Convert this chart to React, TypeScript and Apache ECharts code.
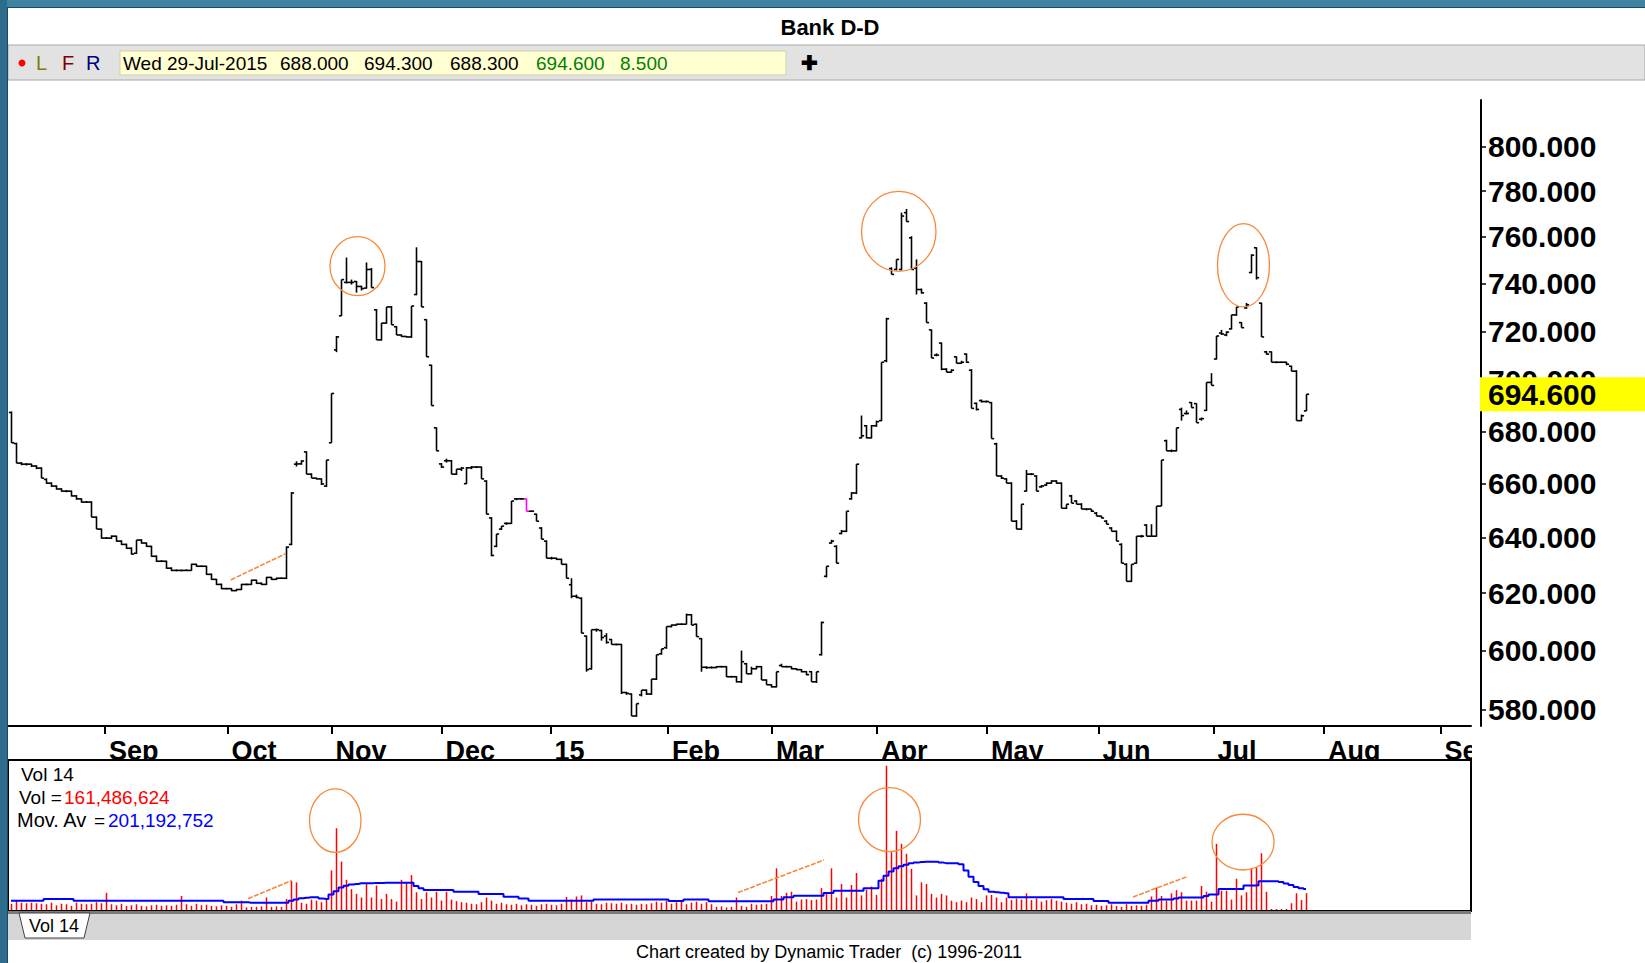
import React, { useEffect, useRef } from 'react';
import * as echarts from 'echarts';

const FONT = "'Liberation Sans', Arial, sans-serif";

// ---------- price bars: [open, high, low, close], one per trading day ----------
const barsAugOct = [
  [687.4,687.8,675.6,675.6],[675.3,675.6,667.8,667.8],[667.8,668.2,667.0,667.4],[667.4,667.8,666.9,667.4],[667.4,667.6,666.3,666.7],
  [666.7,667.0,665.5,665.9],[665.9,666.2,662.1,662.1],[661.6,662.0,660.0,660.2],[660.2,660.5,658.8,659.1],[659.1,659.4,657.8,658.0],
  [658.0,658.3,657.0,657.2],[657.2,657.6,656.8,657.2],[657.2,657.4,655.2,655.4],[655.4,655.7,654.0,654.3],[654.3,654.5,652.9,653.1],
  [653.1,653.5,652.8,653.1],[653.1,653.4,647.5,647.5],[647.5,647.8,643.1,643.1],[643.1,643.3,639.6,639.8],[639.8,640.2,639.5,639.8],
  [639.8,640.8,639.5,640.5],[640.5,640.7,638.5,638.7],[638.7,639.0,637.3,637.5],[637.5,637.8,635.9,636.1],[636.1,636.4,633.8,634.0],
  [634.3,639.1,634.0,639.1],[639.1,639.4,637.8,638.0],[638.0,638.2,636.6,636.8],[636.8,637.0,633.0,633.2],[633.2,633.5,631.2,631.4],
  [631.4,631.8,631.1,631.4],[631.4,631.6,628.7,628.9],[628.9,629.2,627.9,628.1],[628.1,628.5,627.8,628.1],[628.1,628.4,627.8,628.1],
  [628.1,628.5,627.9,628.1],[628.1,630.5,628.0,630.3],[630.3,630.5,629.4,629.6],[629.6,629.9,629.3,629.6],[629.6,629.8,626.5,626.7],
  [626.7,627.0,624.7,624.9],[624.9,625.1,622.9,623.1],[623.1,623.4,621.4,621.6],[621.6,621.9,621.3,621.6],[621.6,621.8,620.7,620.9],
  [620.9,621.5,620.7,621.3],[621.3,623.3,621.1,623.1],[623.1,623.4,622.8,623.1],[623.1,624.8,622.9,624.6],[624.6,624.8,623.3,623.5],
  [623.5,623.8,622.9,623.1],[623.1,625.8,622.9,625.6],[625.6,625.8,624.7,624.9],[624.9,625.5,624.7,625.3],[625.3,625.6,625.0,625.3],
  [625.3,636.8,625.0,636.5],[637.5,656.8,637.2,656.5]
];
const barsNov = [
  [667.4,668.5,666.5,667.5],[667.5,668.9,667.2,668.6],[672.1,672.3,663.6,663.6],[663.6,663.9,662.1,662.1],[662.1,662.3,661.6,661.8],
  [661.8,662.0,659.5,659.9],[659.1,669.0,658.8,669.0],[675.6,694.9,675.6,694.9],[712.4,718.1,711.5,717.7],[726.4,741.6,726.4,741.6],
  [740.4,751.0,740.0,740.4],[740.4,741.6,739.5,740.4],[740.8,741.0,736.1,738.7],[738.7,739.0,737.0,737.8],[738.0,748.9,737.8,745.9],
  [745.9,746.5,738.2,738.2],[728.9,729.2,716.5,716.5],[716.5,723.4,716.2,723.4],[723.4,730.1,723.1,730.1],[730.1,730.5,722.7,722.7],
  [721.9,722.2,718.5,718.5],[718.5,718.7,717.7,717.9],[717.9,718.1,717.5,717.7],[717.7,730.5,717.3,730.5],[735.3,755.4,735.0,749.3],
  [749.3,749.5,730.1,730.1],[724.8,725.0,709.6,709.6],[706.2,706.4,690.1,690.1],[681.4,681.6,672.5,672.5],[667.5,667.8,666.0,666.3],
  [668.7,669.5,668.0,668.7],[668.7,669.0,663.6,663.6],[663.6,665.5,663.3,665.5],[665.5,666.3,664.8,665.9]
];
const barsDecFeb = [
  [660.0,666.3,659.9,666.0],[666.0,666.7,665.5,666.3],[666.3,666.7,665.9,666.3],[666.3,666.5,661.8,661.8],[661.0,661.3,648.6,648.6],
  [647.2,647.5,633.2,633.5],[636.8,641.3,636.5,641.3],[643.1,644.2,642.8,644.2],[645.2,645.6,644.7,645.2],[645.2,653.5,645.0,653.5],
  [654.3,654.6,653.8,654.3],[654.3,654.6,654.0,654.3],[654.3,654.5,649.7,649.7],[649.7,650.0,649.4,649.7],[648.6,648.8,646.0,646.0],
  [643.5,643.8,639.4,639.4],[638.7,639.0,632.5,632.5],[632.5,633.0,632.0,632.5],[632.5,632.7,631.9,632.1],[632.1,632.3,630.3,630.3],
  [630.3,630.5,625.3,625.3],[623.0,625.3,618.2,618.9],[618.9,619.5,618.2,618.5],[618.2,618.5,606.0,606.0],[605.0,605.2,592.8,593.5],
  [593.8,607.2,593.5,607.2],[607.2,607.6,606.5,607.2],[606.9,607.2,603.4,604.5],[605.0,606.0,602.4,602.8],[603.8,604.0,602.1,602.1],
  [602.1,602.4,601.8,602.1],[602.1,602.3,585.3,585.8],[585.8,586.0,585.0,585.5],[585.3,585.5,578.0,578.0],[578.0,582.1,577.7,582.1],
  [585.0,586.6,584.5,586.6],[586.6,586.8,585.0,585.3],[585.3,590.3,585.0,590.3],[590.3,598.6,590.0,598.6],[598.9,600.6,598.6,600.6],
  [601.0,608.3,600.6,608.3],[608.3,609.0,608.0,608.8],[608.8,609.3,608.6,609.1],[609.1,609.4,608.8,609.1],[609.1,612.8,609.0,612.4],
  [612.4,612.6,608.8,608.8],[609.1,609.3,604.8,604.8],[604.1,604.3,592.8,594.3],[594.3,594.6,593.8,594.2],[594.2,594.6,593.9,594.2],
  [594.2,594.7,594.0,594.5],[594.5,594.8,594.2,594.5],[594.5,594.7,591.0,591.1],[591.1,591.4,590.8,591.1],[591.1,591.3,589.2,589.4],
  [589.4,600.0,589.0,596.2],[595.5,595.8,592.1,592.1],[592.1,594.5,591.9,593.8],[593.8,594.8,593.6,594.5],[594.5,594.7,590.0,590.0],
  [590.0,590.2,588.4,588.4],[588.4,588.6,587.5,587.7],[587.7,592.8,587.5,592.8],[594.9,595.5,594.5,594.5],[594.5,594.8,594.2,594.5],
  [594.5,594.6,593.6,593.8],[593.8,594.0,593.3,593.5],[593.5,593.7,592.6,592.8],[592.8,593.0,591.6,591.8],[592.8,593.0,589.4,589.4],
  [589.4,592.8,589.0,592.8]
];
const barsMarMay = [
  [598.6,610.0,598.3,609.7],[626.0,629.6,625.6,629.6],[638.0,639.2,637.8,638.7],[636.8,637.2,630.7,630.7],[641.5,642.8,641.2,642.3],
  [642.3,649.7,642.0,649.7],[654.3,656.8,654.0,656.5],[656.5,667.4,656.1,667.4],[677.5,686.2,677.3,678.3],[682.2,682.5,677.3,677.5],
  [677.5,682.5,677.3,682.2],[682.2,684.2,681.8,683.8],[684.2,707.4,684.0,707.4],[708.0,725.6,707.4,725.2],[746.3,746.8,743.8,743.8],
  [745.9,750.2,745.5,750.2],[745.9,770.5,745.5,769.0],[770.5,772.1,766.6,766.6],[759.5,760.2,745.9,745.9],[746.5,750.2,735.3,737.4],
  [737.4,737.8,735.7,736.0],[731.7,732.1,723.6,723.6],[720.6,720.8,709.1,709.1],[710.3,711.0,709.8,710.3],[715.2,715.4,704.2,704.6],
  [704.6,705.0,703.4,703.4],[703.4,704.6,703.2,704.2],[709.6,709.8,707.0,707.0],[707.0,708.0,706.8,707.4],[710.7,711.0,707.2,707.4],
  [704.2,704.6,689.0,689.0],[691.0,691.3,688.2,688.6],[692.1,692.5,691.3,691.7],[691.7,692.1,691.3,691.7],[691.3,691.5,677.2,677.2],
  [675.2,675.6,662.9,662.9],[662.9,663.2,661.8,662.1],[661.8,662.1,660.2,660.2],[660.2,660.5,646.0,646.0],[646.0,646.4,643.1,643.1],
  [643.1,652.3,642.8,652.3],[657.2,665.2,657.0,663.6],[663.6,664.0,663.2,663.6],[662.9,663.2,657.2,657.2],[658.8,659.5,658.5,659.1],
  [659.5,660.5,659.1,660.2],[660.2,661.3,660.0,661.0],[661.0,661.3,660.0,660.2],[660.2,660.5,650.8,650.8],[650.8,652.3,650.5,652.3],
  [655.4,655.8,652.7,652.7],[653.5,653.8,652.3,652.3],[652.3,652.7,650.5,650.5],[650.5,650.8,650.0,650.5],[650.5,650.5,649.4,649.7],
  [649.0,649.4,647.9,647.9],[647.9,648.0,647.1,647.2],[646.0,646.4,644.9,644.9],[643.5,643.8,642.3,642.3],[642.3,642.6,638.7,638.7],
  [637.5,637.9,630.7,630.7],[630.3,630.7,624.2,624.2],[624.2,630.3,624.0,630.3],[630.7,640.5,630.5,640.5],[640.5,641.0,640.0,640.5],
  [644.6,644.9,640.5,640.5],[640.5,644.9,640.3,640.5],[640.5,651.6,640.3,651.6],[651.6,669.0,651.6,669.0]
];
const barsJunJul = [
  [676.4,676.8,672.5,672.5],[672.5,673.0,672.0,672.5],[672.5,681.4,672.3,681.4],[688.6,689.3,684.2,686.2],[687.0,688.2,686.6,687.0],
  [691.3,691.5,689.3,689.3],[690.9,691.0,683.4,683.4],[684.8,685.4,684.2,685.0],[688.2,699.3,688.0,699.3],[699.3,703.0,698.1,698.1],
  [708.7,718.1,708.5,718.1],[719.3,720.6,718.5,718.9],[718.5,720.0,718.0,719.7],[721.0,726.8,720.8,726.8],[726.8,730.1,726.4,730.1],
  [723.6,723.8,721.5,721.5],[729.7,731.8,729.3,731.0],[744.6,752.4,744.3,752.0],[755.2,755.4,741.6,742.4],[731.7,731.9,717.7,717.7],
  [711.6,712.0,710.5,710.7],[711.6,711.8,707.4,707.4],[707.4,707.8,707.0,707.4],[707.4,707.7,707.1,707.4],[707.4,707.6,706.2,706.6],
  [705.8,706.0,703.8,703.8],[703.8,704.2,684.2,684.2],[684.2,686.6,684.0,686.1],[688.0,694.6,688.0,694.6]
];
const highlightedBar = 103; // the one bar drawn in magenta

// ---------- volume (millions) ----------
const volAugNov = [
  60,95,70,65,70,65,60,55,70,45,60,
  55,40,70,60,55,60,75,65,165,55,
  45,60,40,45,55,40,35,45,50,40,
  45,40,50,135,55,40,60,45,50,40,
  35,45,40,30,55,90,25,30,30,35,
  120,30,35,30,105,280,265,70,60,100,
  90,75,100,380,785,465,290,200,155,120,
  250,120,235,105,155,105,80,290,265,335,
  170,105,170,120,175,90,175,100,85,75
];
const volDecFeb = [
  70,60,55,75,120,90,60,70,55,50,
  60,45,55,50,40,55,60,50,45,60,
  125,100,130,140,75,80,60,55,70,65,
  60,70,55,60,50,60,55,65,80,70,
  90,60,75,85,55,70,80,60,75,55,
  30,35,25,30,120,40,30,60,50,55,
  60,135,400,135,165,175,80,100,105,95,
  100
];
const volMarJul = [
  210,170,400,120,250,120,240,355,140,
  195,225,145,300,1385,555,760,635,540,395,
  140,265,250,155,120,155,140,90,75,90,
  75,120,105,75,140,145,120,75,120,95,
  110,100,160,95,110,80,95,105,90,80,
  70,60,75,55,60,45,50,40,45,55,
  40,30,55,40,45,40,50,130,215,135,
  90,160,190,170,90,90,90,230,175,80,
  635,185,185,100,300,140,170,395,410,545,
  175,3,3,3,5,65,160,95,161.486624
];

// ---------- 14-period moving average of volume (millions) ----------
const maAugNov = [
  89,89,89,89,89,89,89,
  106,106,106,106,106,106,
  89,89,89,89,89,89,89,89,89,89,89,89,89,89,89,89,89,89,89,89,89,89,89,89,89,89,89,89,89,89,
  74,74,74,74,74,
  70,70,70,70,70,70,70,70,
  90,100,112,118,122,122,110,106,150,180,215,234,245,250,256,
  258,258,260,260,262,262,262,262,262,262,
  230,210,192,192,192,192,192,192,176,176
];
const maDecFeb = [
  176,176,176,
  154,154,154,154,154,
  128,128,128,
  110,110,
  89,89,89,89,89,89,89,89,89,89,89,89,89,
  102,102,102,102,102,102,102,102,102,102,102,102,102,102,102,
  86,86,86,
  100,100,100,100,100,
  84,84,84,84,84,84,84,84,84,84,84,84,84,
  100,100,
  122,122,
  138,138,138,138,138
];
const maMarJul = [
  138,
  163,163,
  186,186,186,186,186,186,
  208,208,208,
  280,330,370,400,420,435,448,455,460,464,464,464,455,450,450,448,440,380,320,270,230,200,176,170,165,160,
  122,122,122,122,122,122,122,122,122,122,122,
  106,106,106,106,106,106,
  86,86,86,
  70,70,70,70,70,70,70,70,
  90,90,
  100,100,100,
  110,
  120,120,120,120,120,
  135,
  150,150,
  202,202,202,202,202,
  235,235,235,
  275,275,275,275,
  268,255,240,222,210,201.192752
];

// ---------- axes ----------
const monthLabels = ['Sep', 'Oct', 'Nov', 'Dec', '15', 'Feb', 'Mar', 'Apr', 'May', 'Jun', 'Jul', 'Aug', 'Sep'];
const monthStartBar = [18.8, 43.3, 64.1, 86.1, 107.9, 131.4, 152.2, 173.2, 195.2, 217.5, 240.5, 262.6, 285.9];
const priceTicks = [580, 600, 620, 640, 660, 680, 700, 720, 740, 760, 780, 800];
const priceRange = [574.7, 821.7];
const barRange = [-0.6, 292.0];
const volumeMax = 1440;
const lastPrice = 694.6;

// ---------- annotations (data units) ----------
const priceCircles = [[63.8, 74.8, 734.8, 760.0], [170.1, 185.0, 745.1, 779.9], [241.3, 251.7, 730.1, 765.7]];
const priceTrendLines = [[43.96, 624.7, 54.86, 634.1]];
const volCircles = [[59.7, 70.0, 554, 1162], [169.5, 181.9, 560, 1174], [240.2, 252.6, 384, 919]];
const volTrendLines = [[47.4, 108, 56.1, 283], [145.4, 168, 162.6, 480], [224.4, 125, 235.4, 324]];

const ORANGE = '#f7893b';

function fmtInt(v: number) {
  return Math.round(v * 1e6).toLocaleString('en-US');
}

function txt(text: string, x: number, y: number, o: any = {}) {
  return {
    type: 'text', x, y, z: 10,
    style: {
      text, fill: o.color || '#000', fontSize: o.size || 19, fontWeight: o.weight || 'normal',
      fontFamily: FONT, align: o.align || 'left', textAlign: o.align || 'left',
      verticalAlign: 'middle', textVerticalAlign: 'middle'
    }
  };
}

export default function App() {
  const ref = useRef<HTMLDivElement>(null);
  useEffect(() => {
    if (!ref.current) return;
    const chart = echarts.init(ref.current, null, { renderer: 'svg' });
    const bars = [...barsAugOct, ...barsNov, ...barsDecFeb, ...barsMarMay, ...barsJunJul];
    const vols = [...volAugNov, ...volDecFeb, ...volMarJul];
    const mas = [...maAugNov, ...maDecFeb, ...maMarJul];
    const ln = Math.log;
    const priceData = bars.map((b, i) => [i, ln(b[0]), ln(b[1]), ln(b[2]), ln(b[3])]);
    const volData = vols.map((v, i) => [i, v]);
    const maData = mas.map((v, i) => [i, v]);
    const tickLn = priceTicks.map(ln);
    const monthFmt = (v: number) => {
      const i = monthStartBar.findIndex((b) => Math.abs(b - v) < 1e-6);
      return i >= 0 ? monthLabels[i] : '';
    };
    const priceFmt = (v: number) => Math.exp(v).toFixed(3);

    const ellipseItem = (params: any, api: any) => {
      const a = api.coord([api.value(0), api.value(2)]);
      const b = api.coord([api.value(1), api.value(3)]);
      return {
        type: 'ellipse',
        shape: { cx: (a[0] + b[0]) / 2, cy: (a[1] + b[1]) / 2, rx: Math.abs(b[0] - a[0]) / 2, ry: Math.abs(b[1] - a[1]) / 2 },
        style: { fill: 'none', stroke: ORANGE, lineWidth: 1.3 }
      };
    };
    const segItem = (params: any, api: any) => {
      const a = api.coord([api.value(0), api.value(1)]);
      const b = api.coord([api.value(2), api.value(3)]);
      return {
        type: 'line',
        shape: { x1: a[0], y1: a[1], x2: b[0], y2: b[1] },
        style: { stroke: ORANGE, lineWidth: 1.6, lineDash: [5, 1.5] }
      };
    };

    const graphics: any[] = [
      // frame
      { type: 'rect', z: 10, shape: { x: 0, y: 0, width: 1645, height: 7 }, style: { fill: '#3f82a2' } },
      { type: 'rect', z: 10, shape: { x: 0, y: 7, width: 1645, height: 1 }, style: { fill: '#1c4a63' } },
      { type: 'rect', z: 10, shape: { x: 0, y: 0, width: 7, height: 963 }, style: { fill: '#2c6c8c' } },
      { type: 'rect', z: 10, shape: { x: 7, y: 7, width: 1, height: 956 }, style: { fill: '#1c4a63' } },
      txt('Bank D-D', 830, 27, { weight: 'bold', size: 22, align: 'center' }),
      // toolbar
      { type: 'rect', z: 9, shape: { x: 8, y: 45, width: 1637, height: 35 }, style: { fill: '#e2e2e2', stroke: '#a8a8a8', lineWidth: 1 } },
      { type: 'circle', z: 10, shape: { cx: 22, cy: 63, r: 3.5 }, style: { fill: '#ff0000' } },
      txt('L', 36, 63, { color: '#808000', size: 20 }),
      txt('F', 62, 63, { color: '#800000', size: 20 }),
      txt('R', 86, 63, { color: '#000080', size: 20 }),
      { type: 'rect', z: 10, shape: { x: 120, y: 51, width: 666, height: 24 }, style: { fill: '#ffffd2', stroke: '#cfcfb0', lineWidth: 1 } },
      txt('Wed 29-Jul-2015', 123, 63),
      txt('688.000', 280, 63),
      txt('694.300', 364, 63),
      txt('688.300', 450, 63),
      txt('694.600', 536, 63, { color: '#008000' }),
      txt('8.500', 620, 63, { color: '#008000' }),
      txt('\u271A', 809, 63, { size: 20, weight: 'bold', align: 'center' }),
      // cover right end of the date axis
      { type: 'rect', z: 1, shape: { x: 1472, y: 728, width: 173, height: 50 }, style: { fill: '#ffffff' } },
      // volume panel
      { type: 'rect', z: 1, shape: { x: 8, y: 760, width: 1463, height: 151 }, style: { fill: '#ffffff', stroke: '#000', lineWidth: 2 } },
      txt('Vol 14', 21, 774),
      txt('Vol =', 19, 797),
      txt(fmtInt(vols[vols.length - 1]), 64, 797, { color: '#ff0000' }),
      txt('Mov. Av', 17, 820, { size: 20 }),
      txt('=', 94, 820),
      txt(fmtInt(mas[mas.length - 1]), 108, 820, { color: '#0000ff' }),
      // tab strip
      { type: 'rect', z: 9, shape: { x: 8, y: 912, width: 1463, height: 28 }, style: { fill: '#d6d6d6' } },
      { type: 'rect', z: 9, shape: { x: 8, y: 911, width: 1463, height: 3 }, style: { fill: '#7a7a7a' } },
      { type: 'polygon', z: 10, shape: { points: [[19, 913], [90, 913], [84, 938], [25, 938]] }, style: { fill: '#ffffff', stroke: '#404040', lineWidth: 1 } },
      txt('Vol 14', 54, 926, { align: 'center', size: 18 }),
      txt('Chart created by Dynamic Trader  (c) 1996-2011', 829, 952, { align: 'center', size: 18 })
    ];

    chart.setOption({
      animation: false,
      backgroundColor: '#ffffff',
      grid: [
        { left: 8, top: 100, width: 1463, height: 626, show: false, containLabel: false, outerBoundsMode: 'none' },
        { left: 8, top: 760, width: 1463, height: 150, show: false, containLabel: false, outerBoundsMode: 'none' }
      ],
      xAxis: [
        {
          gridIndex: 0, type: 'value', min: barRange[0], max: barRange[1],
          axisLine: { show: true, onZero: false, lineStyle: { color: '#000', width: 2 } },
          axisTick: { show: true, customValues: monthStartBar, length: 8, lineStyle: { color: '#000', width: 2 } },
          axisLabel: {
            show: true, customValues: monthStartBar, formatter: monthFmt, align: 'left', margin: 11,
            padding: [0, 0, 0, 4], color: '#000', fontSize: 27, fontWeight: 'bold', fontFamily: FONT
          },
          splitLine: { show: false }
        },
        { gridIndex: 1, type: 'value', min: barRange[0], max: barRange[1], show: false, splitLine: { show: false } }
      ],
      yAxis: [
        {
          gridIndex: 0, type: 'value', position: 'right', offset: 10, min: ln(priceRange[0]), max: ln(priceRange[1]),
          axisLine: { show: true, onZero: false, lineStyle: { color: '#000', width: 2 } },
          axisTick: { show: true, customValues: tickLn, length: 5, lineStyle: { color: '#000', width: 1.5 } },
          axisLabel: {
            show: true, customValues: tickLn, formatter: priceFmt, margin: 7,
            color: '#000', fontSize: 30, fontWeight: 'bold', fontFamily: FONT
          },
          splitLine: { show: false }
        },
        {
          gridIndex: 0, type: 'value', position: 'right', offset: 10, z: 5, min: ln(priceRange[0]), max: ln(priceRange[1]),
          axisLine: { show: false }, axisTick: { show: false }, splitLine: { show: false },
          axisLabel: {
            show: true, customValues: [ln(lastPrice)], formatter: priceFmt, margin: -1,
            backgroundColor: '#ffff00', padding: [2, 60, 2, 8], lineHeight: 30,
            color: '#000', fontSize: 30, fontWeight: 'bold', fontFamily: FONT
          }
        },
        { gridIndex: 1, type: 'value', min: 0, max: volumeMax, show: false, splitLine: { show: false } }
      ],
      graphic: { elements: graphics },
      series: [
        {
          type: 'custom', name: 'price', xAxisIndex: 0, yAxisIndex: 0, data: priceData,
          encode: { x: 0, y: [1, 2, 3, 4] },
          renderItem: (params: any, api: any) => {
            const k = api.value(0);
            const o = api.coord([k, api.value(1)]);
            const h = api.coord([k, api.value(2)]);
            const l = api.coord([k, api.value(3)]);
            const c = api.coord([k, api.value(4)]);
            const x = Math.round(h[0]) + 0.5;
            const color = params.dataIndex === highlightedBar ? '#ff00ff' : '#000000';
            const st = { stroke: color, lineWidth: 1.6, fill: null };
            const yTop = Math.min(h[1], l[1]);
            let yBot = Math.max(h[1], l[1]);
            if (yBot - yTop < 1.5) yBot = yTop + 1.5;
            return {
              type: 'group',
              children: [
                { type: 'line', shape: { x1: x, y1: yTop, x2: x, y2: yBot }, style: st },
                { type: 'line', shape: { x1: x - 2.6, y1: o[1], x2: x, y2: o[1] }, style: st },
                { type: 'line', shape: { x1: x, y1: c[1], x2: x + 2.6, y2: c[1] }, style: st }
              ]
            };
          }
        },
        {
          type: 'custom', name: 'volume', xAxisIndex: 1, yAxisIndex: 2, data: volData,
          encode: { x: 0, y: 1 },
          renderItem: (params: any, api: any) => {
            const k = api.value(0);
            const a = api.coord([k, 0]);
            const b = api.coord([k, api.value(1)]);
            const x = Math.round(a[0]) + 0.5;
            return { type: 'line', shape: { x1: x, y1: a[1], x2: x, y2: Math.min(b[1], a[1] - 1) }, style: { stroke: '#ff0000', lineWidth: 1.5 } };
          }
        },
        {
          type: 'line', name: 'Mov. Av', xAxisIndex: 1, yAxisIndex: 2, data: maData, step: 'middle',
          symbol: 'none', lineStyle: { color: '#0000ff', width: 2 }, z: 3
        },
        { type: 'custom', xAxisIndex: 0, yAxisIndex: 0, z: 4, data: priceCircles.map((d) => [d[0], d[1], ln(d[2]), ln(d[3])]), encode: { x: [0, 1], y: [2, 3] }, renderItem: ellipseItem },
        { type: 'custom', xAxisIndex: 0, yAxisIndex: 0, z: 4, data: priceTrendLines.map((d) => [d[0], ln(d[1]), d[2], ln(d[3])]), encode: { x: [0, 2], y: [1, 3] }, renderItem: segItem },
        { type: 'custom', xAxisIndex: 1, yAxisIndex: 2, z: 4, data: volCircles, encode: { x: [0, 1], y: [2, 3] }, renderItem: ellipseItem },
        { type: 'custom', xAxisIndex: 1, yAxisIndex: 2, z: 4, data: volTrendLines, encode: { x: [0, 2], y: [1, 3] }, renderItem: segItem }
      ]
    });
    return () => chart.dispose();
  }, []);
  return <div ref={ref} style={{ position: 'fixed', left: 0, top: 0, width: 1645, height: 963 }} />;
}
